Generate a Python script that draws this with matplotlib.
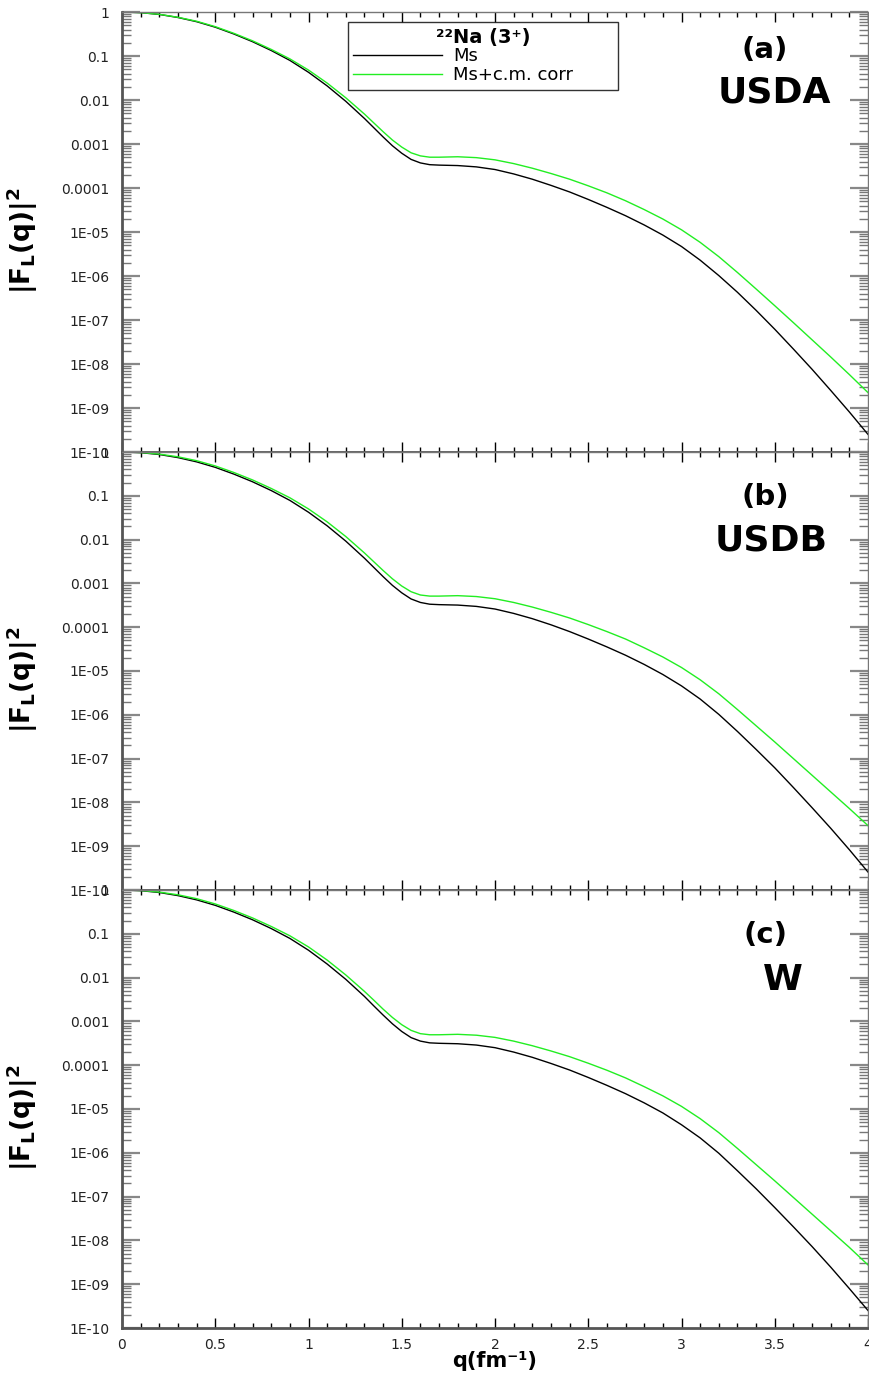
import numpy as np
import matplotlib
matplotlib.use("Agg")
import matplotlib.pyplot as plt
from matplotlib.ticker import FixedLocator, FixedFormatter, LogLocator, MultipleLocator, NullFormatter

plt.rcParams['font.family'] = ['DejaVu Sans']
plt.rcParams['mathtext.fontset'] = 'dejavusans'

q = [0.0, 0.1, 0.2, 0.3, 0.4, 0.5, 0.6, 0.7, 0.8, 0.9, 1.0, 1.1, 1.2, 1.3,
     1.35, 1.4, 1.45, 1.5, 1.55, 1.6, 1.65, 1.7,
     1.8, 1.9, 2.0, 2.1, 2.2, 2.3, 2.4, 2.5, 2.6, 2.7, 2.8, 2.9, 3.0,
     3.1, 3.2, 3.3, 3.4, 3.5, 3.6, 3.7, 3.8, 3.9, 4.0]

# log10 |F_L(q)|^2
usda_ms = [0.0, -0.014, -0.055, -0.125, -0.22, -0.345, -0.50, -0.675, -0.875, -1.10, -1.37, -1.68, -2.03, -2.42,
           -2.63, -2.84, -3.04, -3.21, -3.35, -3.43, -3.47, -3.48,
           -3.49, -3.52, -3.58, -3.68, -3.80, -3.94, -4.09, -4.26, -4.44, -4.63, -4.84, -5.07, -5.33,
           -5.64, -5.99, -6.37, -6.78, -7.21, -7.66, -8.12, -8.60, -9.09, -9.60]
usda_cm = [0.0, -0.014, -0.053, -0.12, -0.21, -0.333, -0.485, -0.655, -0.85, -1.065, -1.32, -1.615, -1.95, -2.32,
           -2.52, -2.72, -2.91, -3.07, -3.20, -3.27, -3.30, -3.30,
           -3.29, -3.31, -3.36, -3.445, -3.55, -3.67, -3.80, -3.95, -4.11, -4.29, -4.49, -4.705, -4.95,
           -5.235, -5.56, -5.92, -6.295, -6.675, -7.06, -7.45, -7.84, -8.24, -8.65]

usdb_ms = [0.0, -0.015, -0.057, -0.128, -0.225, -0.35, -0.505, -0.68, -0.88, -1.105, -1.375, -1.685, -2.035, -2.425,
           -2.635, -2.845, -3.045, -3.215, -3.355, -3.435, -3.475, -3.485,
           -3.495, -3.525, -3.585, -3.685, -3.805, -3.945, -4.10, -4.27, -4.45, -4.64, -4.85, -5.08, -5.34,
           -5.64, -5.99, -6.38, -6.79, -7.21, -7.66, -8.12, -8.59, -9.08, -9.59]
usdb_cm = [0.0, -0.012, -0.048, -0.11, -0.198, -0.318, -0.468, -0.638, -0.832, -1.045, -1.30, -1.595, -1.93, -2.305,
           -2.505, -2.705, -2.895, -3.06, -3.19, -3.265, -3.29, -3.29,
           -3.28, -3.30, -3.35, -3.435, -3.54, -3.66, -3.79, -3.94, -4.10, -4.27, -4.47, -4.68, -4.92,
           -5.20, -5.52, -5.88, -6.25, -6.62, -7.00, -7.38, -7.76, -8.14, -8.53]

w_ms = [0.0, -0.015, -0.057, -0.128, -0.225, -0.35, -0.505, -0.68, -0.88, -1.105, -1.375, -1.69, -2.04, -2.43,
        -2.645, -2.855, -3.055, -3.23, -3.37, -3.45, -3.49, -3.50,
        -3.51, -3.54, -3.60, -3.70, -3.82, -3.96, -4.11, -4.28, -4.46, -4.65, -4.86, -5.09, -5.36,
        -5.66, -6.01, -6.41, -6.82, -7.25, -7.69, -8.14, -8.61, -9.10, -9.60]
w_cm = [0.0, -0.012, -0.048, -0.11, -0.198, -0.318, -0.468, -0.638, -0.832, -1.045, -1.30, -1.60, -1.94, -2.315,
        -2.515, -2.72, -2.91, -3.075, -3.205, -3.28, -3.305, -3.305,
        -3.295, -3.315, -3.365, -3.45, -3.555, -3.675, -3.805, -3.955, -4.115, -4.29, -4.49, -4.70, -4.94,
        -5.22, -5.54, -5.90, -6.27, -6.64, -7.02, -7.40, -7.78, -8.16, -8.56]

panels = [("(a)", "USDA", usda_ms, usda_cm),
          ("(b)", "USDB", usdb_ms, usdb_cm),
          ("(c)", "W", w_ms, w_cm)]

ytick_vals = [1e-10, 1e-9, 1e-8, 1e-7, 1e-6, 1e-5, 1e-4, 1e-3, 1e-2, 1e-1, 1]
ytick_labels = ["1E-10", "1E-09", "1E-08", "1E-07", "1E-06", "1E-05",
                "0.0001", "0.001", "0.01", "0.1", "1"]
xtick_vals = [0, 0.5, 1, 1.5, 2, 2.5, 3, 3.5, 4]
xtick_labels = ["0", "0.5", "1", "1.5", "2", "2.5", "3", "3.5", "4"]

W, H = 869, 1374
fig = plt.figure(figsize=(W / 100, H / 100), dpi=100)

left, right = 122 / W, 868 / W
tops = [12, 452, 890]
bots = [452, 890, 1328]
tag_pos = [(0.862, 0.914), (0.862, 0.897), (0.862, 0.897)]
name_pos = [(0.875, 0.818), (0.870, 0.799), (0.886, 0.795)]

green = "#22ee22"
for i, (tag, name, ms, cm) in enumerate(panels):
    y0 = 1 - bots[i] / H
    h = (bots[i] - tops[i]) / H
    ax = fig.add_axes([left, y0, right - left, h])
    ax.plot(q, 10 ** np.array(ms), color="black", lw=1.0, label="Ms")
    ax.plot(q, 10 ** np.array(cm), color=green, lw=1.0, label="Ms+c.m. corr")
    ax.set_yscale("log")
    ax.set_xlim(0, 4)
    ax.set_ylim(1e-10, 1)
    ax.yaxis.set_major_locator(FixedLocator(ytick_vals))
    ax.yaxis.set_major_formatter(FixedFormatter(ytick_labels))
    ax.yaxis.set_minor_locator(LogLocator(base=10, subs=np.arange(2, 10), numticks=20))
    ax.yaxis.set_minor_formatter(NullFormatter())
    ax.xaxis.set_major_locator(FixedLocator(xtick_vals))
    ax.xaxis.set_minor_locator(MultipleLocator(0.1))
    if i == 2:
        ax.xaxis.set_major_formatter(FixedFormatter(xtick_labels))
    else:
        ax.set_xticklabels([])
    ax.tick_params(axis="y", which="major", direction="in", length=13, width=1.6,
                   color="#888888", left=True, right=True, labelsize=10, pad=9,
                   labelcolor="#222222")
    ax.tick_params(axis="y", which="minor", direction="in", length=6.5, width=1.0,
                   color="#777777", left=True, right=True)
    ax.tick_params(axis="x", which="major", direction="in", length=7, width=1.0,
                   color="black", top=True, bottom=True, labelsize=10, pad=7,
                   labelcolor="#222222")
    ax.tick_params(axis="x", which="minor", direction="in", length=3.5, width=1.0,
                   color="black", top=True, bottom=True)
    for s in ["left", "bottom"]:
        ax.spines[s].set_color("#555555")
        ax.spines[s].set_linewidth(2.0)
    for s in ["top", "right"]:
        ax.spines[s].set_color("#777777")
        ax.spines[s].set_linewidth(1.0)
    ax.set_ylabel(r"$\mathbf{|F_L(q)|^2}$", fontsize=19, va="center")
    ax.yaxis.set_label_coords(-0.134, 0.48)
    ax.text(tag_pos[i][0], tag_pos[i][1], tag, transform=ax.transAxes, fontsize=21,
            fontweight="bold", ha="center", va="center")
    ax.text(name_pos[i][0], name_pos[i][1], name, transform=ax.transAxes, fontsize=26,
            fontweight="bold", ha="center", va="center")
    if i == 0:
        leg = ax.legend(loc="upper left", bbox_to_anchor=(0.303, 0.823, 0.362, 0.154),
                        mode="expand", title="²²Na (3⁺)",
                        fontsize=13, frameon=True, fancybox=False,
                        edgecolor="black", handlelength=4.9, borderpad=0.3,
                        labelspacing=0.05, handletextpad=0.6, borderaxespad=0.0)
        leg.get_title().set_fontweight("bold")
        leg.get_title().set_fontsize(14)
        leg.get_frame().set_linewidth(1.0)
    if i == 2:
        ax.set_xlabel("q(fm⁻¹)", fontsize=15, fontweight="bold", va="center")
        ax.xaxis.set_label_coords(0.5, -0.0753)

fig.savefig("out.png", dpi=100)
